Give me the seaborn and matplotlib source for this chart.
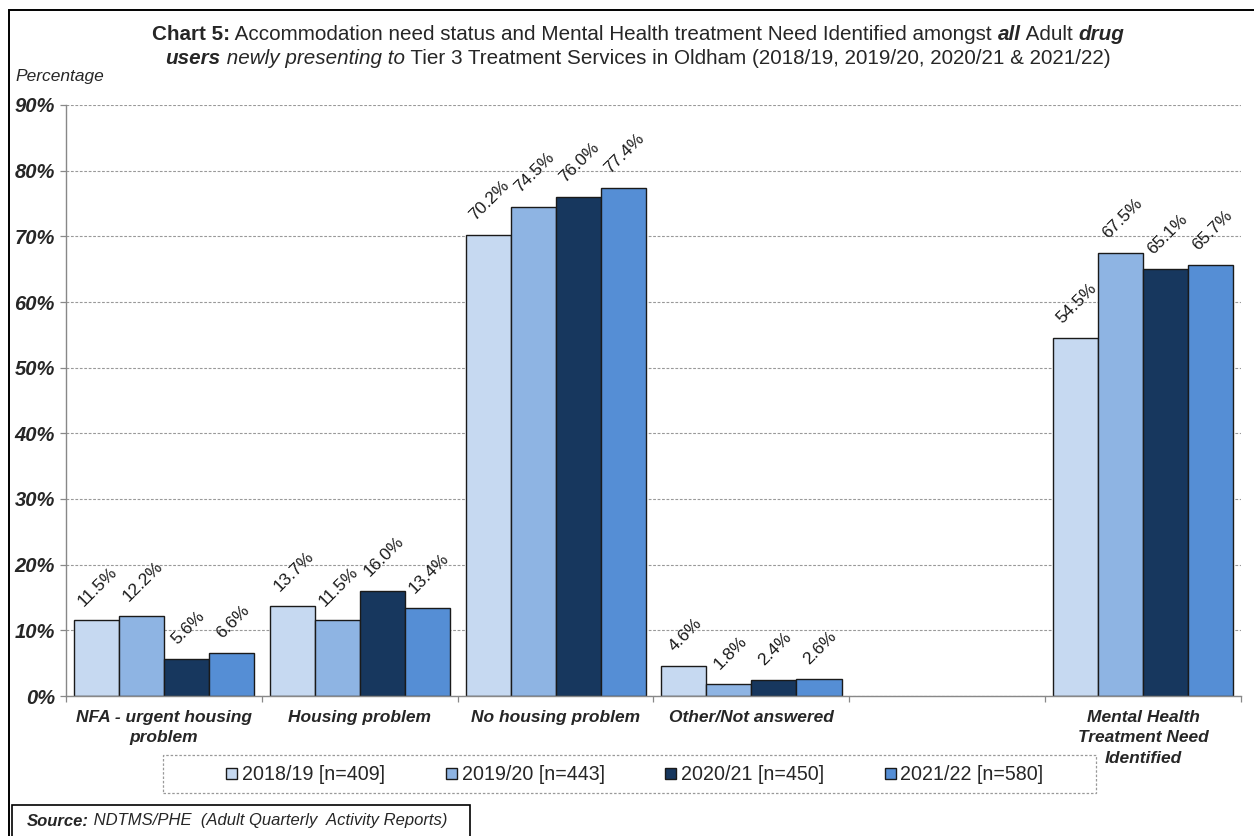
import matplotlib
matplotlib.use("Agg")
import matplotlib.pyplot as plt
from matplotlib.patches import Rectangle
from matplotlib.ticker import FixedLocator, FuncFormatter
import pandas as pd
import seaborn as sns

# ---- data -------------------------------------------------------------
categories = [
    "NFA - urgent housing\nproblem",
    "Housing problem",
    "No housing problem",
    "Other/Not answered",
    "Mental Health\nTreatment Need\nIdentified",
]
# blank slot separates accommodation status from mental health need
slot_order = categories[:4] + [""] + categories[4:]

years = ["2018/19 [n=409]", "2019/20 [n=443]", "2020/21 [n=450]", "2021/22 [n=580]"]
pct_2018_19 = [11.5, 13.7, 70.2, 4.6, 54.5]
pct_2019_20 = [12.2, 11.5, 74.5, 1.8, 67.5]
pct_2020_21 = [5.6, 16.0, 76.0, 2.4, 65.1]
pct_2021_22 = [6.6, 13.4, 77.4, 2.6, 65.7]
year_colors = ["#C6D9F1", "#8EB4E3", "#17375E", "#558ED5"]

yticks = [0, 10, 20, 30, 40, 50, 60, 70, 80, 90]

rows = []
for year, vals in zip(years, [pct_2018_19, pct_2019_20, pct_2020_21, pct_2021_22]):
    for cat, v in zip(categories, vals):
        rows.append({"category": cat, "year": year, "pct": v})
df = pd.DataFrame(rows)

# ---- style ------------------------------------------------------------
sns.set_theme(style="white")
plt.rcParams["font.family"] = ["Liberation Sans", "DejaVu Sans"]

W, H = 1254, 836
fig = plt.figure(figsize=(W / 100, H / 100), dpi=100)
ax = fig.add_axes([66 / W, 1 - 696 / H, (1241 - 66) / W, (696 - 105) / H])

sns.barplot(
    data=df, x="category", y="pct", hue="year",
    order=slot_order, hue_order=years, palette=year_colors,
    width=0.92, edgecolor="#1a1a1a", linewidth=1.0,
    saturation=1, errorbar=None, ax=ax, legend=True,
)

# axes limits, ticks
ax.set_xlim(-0.5, len(slot_order) - 0.5)
ax.set_ylim(0, 90)
ax.yaxis.set_major_locator(FixedLocator(yticks))
ax.yaxis.set_major_formatter(FuncFormatter(lambda v, p: f"{v:.0f}%"))
for lab in ax.get_yticklabels():
    lab.set_fontweight("bold")
    lab.set_fontstyle("italic")
    lab.set_fontsize(14.5)
ax.tick_params(axis="y", which="major", direction="out", length=4.5,
               width=0.9, color="#888888", pad=3.5, left=True)

ax.set_xticks(range(len(slot_order)))
ax.set_xticklabels(slot_order, fontsize=12.5, fontweight="bold",
                   fontstyle="italic", linespacing=1.45, va="top")
ax.tick_params(axis="x", which="major", length=0, pad=10)
ax.set_xticks([i - 0.5 for i in range(len(slot_order) + 1)], minor=True)
ax.tick_params(axis="x", which="minor", direction="out", length=4.5,
               width=0.9, color="#888888", bottom=True)

ax.set_xlabel("")
ax.set_ylabel("")

ax.yaxis.grid(True, linestyle=(0, (2.5, 1.5)), color="#999999", linewidth=0.8)
ax.xaxis.grid(False)
ax.set_axisbelow(True)
for side in ["top", "right"]:
    ax.spines[side].set_visible(False)
for side in ["left", "bottom"]:
    ax.spines[side].set_color("#888888")
    ax.spines[side].set_linewidth(1.0)

# value labels on every bar
for cont in ax.containers:
    for bar in cont:
        h = bar.get_height()
        if not h == h or h == 0:
            continue
        ax.annotate(f"{h:.1f}%",
                    (bar.get_x() + bar.get_width() / 2, h),
                    xytext=(1, 8.5), textcoords="offset points",
                    rotation=45, ha="center", va="bottom",
                    fontsize=12.5, color="#1a1a1a")

# legend: square swatches in a dashed box under the axis
handles, labels = ax.get_legend_handles_labels()
ax.get_legend().remove()
fig.legend(handles, labels, loc="center", bbox_to_anchor=(635 / W, 1 - 775 / H),
           ncol=4, frameon=False, fontsize=14.1, handlelength=0.55,
           handleheight=0.55, handletextpad=0.25, columnspacing=3.1,
           borderaxespad=0)
fig.patches.append(Rectangle((163 / W, 1 - 793 / H), (1096 - 163) / W, 38 / H,
                             transform=fig.transFigure, fill=False,
                             edgecolor="#999999", linestyle=(0, (2, 1.5)),
                             linewidth=0.9))

# outer chart border
fig.patches.append(Rectangle((9 / W, -0.1), 1.2, 1 - 10 / H + 0.1,
                             transform=fig.transFigure, fill=False,
                             edgecolor="black", linewidth=1.4, zorder=5))


def draw_runs(runs, x, y, size, align="center", zorder=10):
    """Place consecutive text runs with mixed weight/style on one line."""
    r = fig.canvas.get_renderer()
    texts = []
    for s, weight, style in runs:
        t = fig.text(0, y, s, fontsize=size, fontweight=weight, fontstyle=style,
                     va="center", ha="left", transform=fig.transFigure,
                     zorder=zorder)
        texts.append(t)
    widths = [t.get_window_extent(r).width for t in texts]
    total = sum(widths)
    x0 = x * W - (total / 2 if align == "center" else 0)
    for t, w in zip(texts, widths):
        t.set_x(x0 / W)
        x0 += w
    return texts


# title
draw_runs([("Chart 5:", "bold", "normal"),
           (" Accommodation need status and Mental Health treatment Need Identified amongst ", "normal", "normal"),
           ("all", "bold", "italic"),
           (" Adult ", "normal", "normal"),
           ("drug", "bold", "italic")],
          638 / W, 1 - 35 / H, 14.9)
draw_runs([("users", "bold", "italic"),
           (" newly presenting to", "normal", "italic"),
           (" Tier 3 Treatment Services in Oldham (2018/19, 2019/20, 2020/21 & 2021/22)", "normal", "normal")],
          638 / W, 1 - 58 / H, 14.9)

fig.text(15 / W, 1 - 77 / H, "Percentage", fontsize=12.5, fontstyle="italic",
         va="center", ha="left")

# source box
fig.patches.append(Rectangle((12 / W, -0.1), (470 - 12) / W, 0.1 + 1 - 805 / H,
                             transform=fig.transFigure, facecolor="white",
                             edgecolor="black", linewidth=1.2, zorder=8))
draw_runs([("Source:", "bold", "italic"),
           (" NDTMS/PHE  (Adult Quarterly  Activity Reports)", "normal", "italic")],
          27 / W, 1 - 821 / H, 12, align="left")

fig.savefig("out.png", dpi=100)
